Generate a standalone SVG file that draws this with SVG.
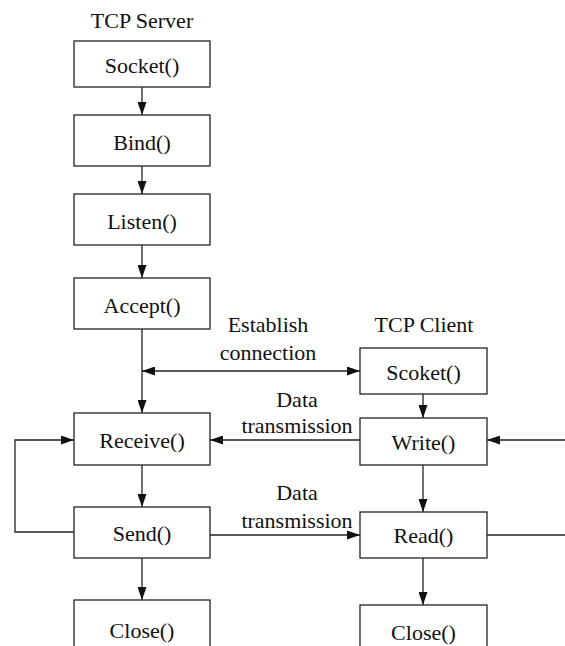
<svg xmlns="http://www.w3.org/2000/svg" width="565" height="646" viewBox="0 0 565 646">
<style>
.box{fill:#fff;stroke:#222;stroke-width:1.3}
.c{fill:none;stroke:#222;stroke-width:1.3}
</style>
<defs>
<marker id="ah" viewBox="0 0 13 9" refX="13" refY="4.5" markerWidth="13" markerHeight="9" markerUnits="userSpaceOnUse" orient="auto-start-reverse">
<path d="M0,0 L13,4.5 L0,9 Z" fill="#111"/>
</marker>
</defs>
<rect width="565" height="646" fill="#fff"/>
<g font-family="Liberation Serif, serif" font-size="22" fill="#111" text-anchor="middle">
<text x="142" y="28">TCP Server</text>
<text x="424" y="332">TCP Client</text>
<text x="268" y="332">Establish</text>
<text x="268" y="360">connection</text>
<text x="297" y="407">Data</text>
<text x="297" y="433">transmission</text>
<text x="297" y="500">Data</text>
<text x="297" y="528">transmission</text>
</g>
<g id="connectors">
<line class="c" x1="142" y1="87" x2="142" y2="115" marker-end="url(#ah)"/>
<line class="c" x1="142" y1="166" x2="142" y2="194" marker-end="url(#ah)"/>
<line class="c" x1="142" y1="245" x2="142" y2="278" marker-end="url(#ah)"/>
<line class="c" x1="142" y1="329" x2="142" y2="413" marker-end="url(#ah)"/>
<line class="c" x1="142" y1="465" x2="142" y2="507" marker-end="url(#ah)"/>
<line class="c" x1="142" y1="558" x2="142" y2="600" marker-end="url(#ah)"/>
<line class="c" x1="142" y1="371" x2="360" y2="371" marker-start="url(#ah)" marker-end="url(#ah)"/>
<line class="c" x1="360" y1="440" x2="210" y2="440" marker-end="url(#ah)"/>
<line class="c" x1="565" y1="440" x2="487" y2="440" marker-end="url(#ah)"/>
<line class="c" x1="210" y1="535" x2="360" y2="535" marker-end="url(#ah)"/>
<line class="c" x1="487" y1="535" x2="565" y2="535"/>
<polyline class="c" points="74,532 15,532 15,440 74,440" marker-end="url(#ah)"/>
<line class="c" x1="423" y1="394" x2="423" y2="418" marker-end="url(#ah)"/>
<line class="c" x1="423" y1="465" x2="423" y2="512" marker-end="url(#ah)"/>
<line class="c" x1="423" y1="558" x2="423" y2="605" marker-end="url(#ah)"/>
</g>
<g font-family="Liberation Serif, serif" font-size="22" fill="#111" text-anchor="middle">
<g id="socket"><rect class="box" x="74" y="41" width="136" height="46"/><text x="142" y="73">Socket()</text></g>
<g id="bind"><rect class="box" x="74" y="115" width="136" height="51"/><text x="142" y="150">Bind()</text></g>
<g id="listen"><rect class="box" x="74" y="194" width="136" height="51"/><text x="142" y="229">Listen()</text></g>
<g id="accept"><rect class="box" x="74" y="278" width="136" height="51"/><text x="142" y="313">Accept()</text></g>
<g id="receive"><rect class="box" x="74" y="413" width="136" height="52"/><text x="142" y="448">Receive()</text></g>
<g id="send"><rect class="box" x="74" y="507" width="136" height="51"/><text x="142" y="541">Send()</text></g>
<g id="close-server"><rect class="box" x="74" y="600" width="136" height="60"/><text x="142" y="638">Close()</text></g>
<g id="scoket"><rect class="box" x="360" y="348" width="127" height="46"/><text x="423.5" y="380">Scoket()</text></g>
<g id="write"><rect class="box" x="360" y="418" width="127" height="47"/><text x="423.5" y="450">Write()</text></g>
<g id="read"><rect class="box" x="360" y="512" width="127" height="46"/><text x="423.5" y="543">Read()</text></g>
<g id="close-client"><rect class="box" x="360" y="605" width="127" height="60"/><text x="423.5" y="640">Close()</text></g>
</g>
</svg>
